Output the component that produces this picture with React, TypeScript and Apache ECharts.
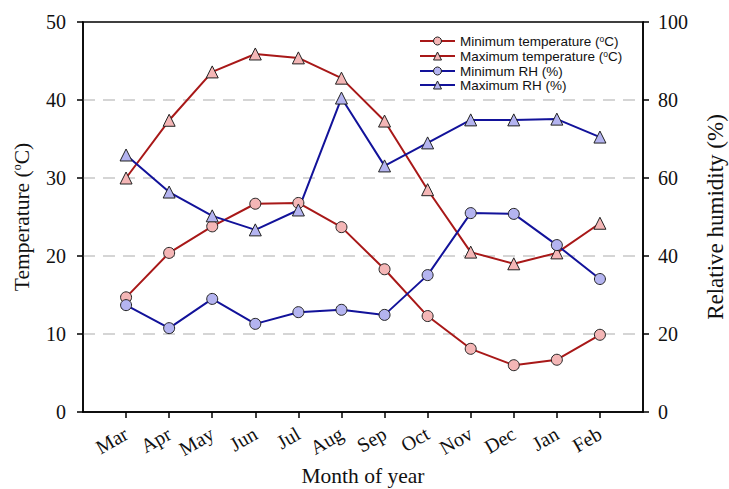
import React, { useEffect, useRef } from "react";
import * as echarts from "echarts";

const months = ["Mar", "Apr", "May", "Jun", "Jul", "Aug", "Sep", "Oct", "Nov", "Dec", "Jan", "Feb"];
const minTemp = [14.7, 20.4, 23.8, 26.7, 26.8, 23.7, 18.3, 12.3, 8.1, 6.0, 6.7, 9.9];
const maxTemp = [30.0, 37.4, 43.6, 45.9, 45.4, 42.8, 37.3, 28.5, 20.5, 19.0, 20.4, 24.2];
const minRH = [27.4, 21.5, 29.0, 22.6, 25.6, 26.2, 24.9, 35.1, 51.0, 50.8, 42.8, 34.1];
const maxRH = [65.9, 56.4, 50.3, 46.7, 51.8, 80.5, 63.1, 69.0, 74.9, 74.9, 75.1, 70.5];
const tempTicks = [0, 10, 20, 30, 40, 50];
const rhTicks = [0, 20, 40, 60, 80, 100];

const RED = "#A81818";
const BLUE = "#12129A";
const PINK = "#F4B6B6";
const LAV = "#B4B4F0";
const SERIF = "'Liberation Serif', 'Times New Roman', serif";
const SANS = "'Liberation Sans', Arial, sans-serif";

const pad = (arr: number[]) => [null, ...arr, null];

export default function App() {
  const ref = useRef<HTMLDivElement>(null);
  useEffect(() => {
    if (!ref.current) return;
    const chart = echarts.init(ref.current, undefined, { renderer: "svg" });
    const cats = ["", ...months, ""];
    const specs = [
      { name: "Minimum temperature (oC)", data: minTemp, color: RED, fill: PINK, symbol: "circle", size: 11, y: 0 },
      { name: "Maximum temperature (oC)", data: maxTemp, color: RED, fill: PINK, symbol: "triangle", size: 12, y: 0 },
      { name: "Minimum RH (%)", data: minRH, color: BLUE, fill: LAV, symbol: "circle", size: 11, y: 1 },
      { name: "Maximum RH (%)", data: maxRH, color: BLUE, fill: LAV, symbol: "triangle", size: 12, y: 1 },
    ];
    chart.setOption({
      animation: false,
      grid: {
        left: 83, right: 86, top: 22, bottom: 77,
        outerBoundsMode: "none",
        containLabel: false,
        show: true, borderColor: "#000", borderWidth: 1.5, backgroundColor: "transparent",
      },
      legend: {
        orient: "vertical",
        left: 414,
        top: 29,
        itemGap: 0,
        itemWidth: 35,
        itemHeight: 10,
        textStyle: {
          fontFamily: SANS,
          fontSize: 13.5,
          lineHeight: 14,
          color: "#111",
          rich: { s: { fontSize: 8.5, lineHeight: 14, verticalAlign: "top", padding: [0, 0, 6, 0], fontFamily: SANS, color: "#111" } },
        },
        formatter: (name: string) => name.replace("(oC)", "({s|o}C)"),
        data: specs.map((s) => ({
          name: s.name,
          itemStyle: { color: s.fill, borderColor: "#222", borderWidth: 1 },
          lineStyle: { color: s.color, width: 2 },
        })),
      },
      xAxis: {
        type: "category",
        data: cats,
        boundaryGap: false,
        name: "Month of year",
        nameLocation: "middle",
        nameGap: 53,
        nameTextStyle: { fontFamily: SERIF, fontSize: 21.5, color: "#111" },
        axisLine: { show: true, lineStyle: { color: "#000", width: 1.5 } },
        axisTick: { show: true, interval: (i: number) => i > 0 && i < cats.length - 1, length: 6, lineStyle: { color: "#000", width: 1.5 } },
        axisLabel: { interval: 0, rotate: 30, margin: 20, fontFamily: SERIF, fontSize: 20, color: "#111" },
        splitLine: { show: false },
      },
      yAxis: [
        {
          type: "value",
          min: tempTicks[0],
          max: tempTicks[tempTicks.length - 1],
          interval: 10,
          name: "{a|Temperature (}{s|o}{a|C)}",
          nameLocation: "middle",
          nameRotate: 90,
          nameGap: 50,
          nameTextStyle: {
            rich: {
              a: { fontFamily: SERIF, fontSize: 21.5, color: "#111" },
              s: { fontFamily: SERIF, fontSize: 12, color: "#111", verticalAlign: "top", padding: [0, 0, 9, 0] },
            },
          },
          axisLine: { show: true, lineStyle: { color: "#000", width: 1.5 } },
          axisTick: { show: true, length: 6, lineStyle: { color: "#000", width: 1.5 } },
          axisLabel: { fontFamily: SERIF, fontSize: 20, color: "#111", margin: 17 },
          splitLine: { show: true, showMinLine: false, showMaxLine: false, lineStyle: { color: "#C8C8C8", type: [12, 8], width: 1.5 } },
        },
        {
          type: "value",
          min: rhTicks[0],
          max: rhTicks[rhTicks.length - 1],
          interval: 20,
          position: "right",
          name: "Relative humidity (%)",
          nameLocation: "middle",
          nameRotate: 90,
          nameGap: 61,
          nameTextStyle: { fontFamily: SERIF, fontSize: 23, color: "#111" },
          axisLine: { show: true, lineStyle: { color: "#000", width: 1.5 } },
          axisTick: { show: true, length: 6, lineStyle: { color: "#000", width: 1.5 } },
          axisLabel: { fontFamily: SERIF, fontSize: 20, color: "#111", margin: 15 },
          splitLine: { show: false },
        },
      ],
      series: specs.map((s) => ({
        name: s.name,
        type: "line",
        yAxisIndex: s.y,
        data: pad(s.data),
        symbol: s.symbol,
        symbolSize: s.size,
        showAllSymbol: true,
        lineStyle: { color: s.color, width: 2 },
        itemStyle: { color: s.fill, borderColor: "#222", borderWidth: 1 },
        emphasis: { disabled: true },
      })),
    });
    return () => chart.dispose();
  }, []);
  return <div ref={ref} style={{ width: 729, height: 489, position: "absolute", left: 0, top: 0 }} />;
}
